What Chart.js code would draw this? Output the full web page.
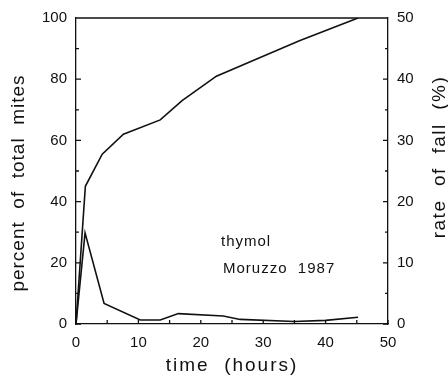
<!DOCTYPE html>
<html>
<head>
<meta charset="utf-8">
<script src="https://cdn.jsdelivr.net/npm/chart.js@4"></script>
<style>
  html, body { margin: 0; padding: 0; background: #fff; }
  #wrap { width: 448px; height: 384px; }
</style>
</head>
<body>
<div id="wrap"><canvas id="chart" width="448" height="384"></canvas></div>
<script>
// cumulative mite fall (left axis) and rate of fall (right axis)
const cumHours = [0, 1.5, 4.2, 7.6, 13.5, 17, 22.5, 28.3, 35.8, 45.2];
const cumPercent = [0, 45, 55.5, 62, 66.7, 73, 81, 86, 92.6, 100];

const rateHours = [0, 1.45, 4.5, 10.3, 13.5, 16.4, 23.6, 26.3, 35, 40, 45.2];
const ratePercent = [0, 14.9, 3.35, 0.65, 0.65, 1.7, 1.3, 0.75, 0.4, 0.6, 1.1];

const leftTicks = [0, 20, 40, 60, 80, 100];
const rightTicks = [0, 10, 20, 30, 40, 50];
const timeTicks = [0, 10, 20, 30, 40, 50];

const INK = '#111';
const FONT = '"Liberation Sans", Arial, sans-serif';

function spacedText(ctx, text, x, y, spacing) {
  ctx.letterSpacing = spacing + 'px';
  ctx.fillText(text, x, y);
  ctx.letterSpacing = '0px';
}

// inward tick marks, top frame line, axis titles and the note
const framePlugin = {
  id: 'frame',
  afterDraw(chart) {
    const ctx = chart.ctx;
    const a = chart.chartArea;
    const x = chart.scales.x, y = chart.scales.y, y1 = chart.scales.y1;
    ctx.save();
    ctx.strokeStyle = INK;
    ctx.lineWidth = 1.3;
    ctx.beginPath();
    ctx.moveTo(a.left, a.top);
    ctx.lineTo(a.right, a.top);
    for (let v = 0; v <= 100; v += 10) {
      const p = y.getPixelForValue(v);
      const len = v % 20 === 0 ? 5 : 3;
      ctx.moveTo(a.left, p);
      ctx.lineTo(a.left + len, p);
    }
    for (let v = 0; v <= 50; v += 5) {
      const p = y1.getPixelForValue(v);
      const len = v % 10 === 0 ? 5 : 3;
      ctx.moveTo(a.right, p);
      ctx.lineTo(a.right - len, p);
    }
    for (let v = 0; v <= 50; v += 5) {
      const p = x.getPixelForValue(v);
      ctx.moveTo(p, a.bottom);
      ctx.lineTo(p, a.bottom - 4);
    }
    ctx.stroke();

    ctx.fillStyle = INK;
    ctx.textAlign = 'center';
    ctx.textBaseline = 'middle';
    ctx.font = '19px ' + FONT;
    spacedText(ctx, 'time  (hours)', 232, 366, 2);

    ctx.save();
    ctx.translate(19, 183);
    ctx.rotate(-Math.PI / 2);
    spacedText(ctx, 'percent  of  total  mites', 0, 0, 1);
    ctx.restore();

    ctx.save();
    ctx.translate(440, 157);
    ctx.rotate(-Math.PI / 2);
    spacedText(ctx, 'rate  of  fall  (%)', 0, 0, 1.5);
    ctx.restore();

    ctx.textAlign = 'left';
    ctx.font = '15px ' + FONT;
    spacedText(ctx, 'thymol', 221, 242, 1);
    spacedText(ctx, 'Moruzzo  1987', 223, 269, 1);
    ctx.restore();
  }
};

new Chart(document.getElementById('chart'), {
  type: 'line',
  data: {
    datasets: [
      {
        label: 'percent of total mites',
        data: cumHours.map((h, i) => ({ x: h, y: cumPercent[i] })),
        yAxisID: 'y',
        borderColor: INK,
        borderWidth: 1.6,
        pointRadius: 0,
        tension: 0
      },
      {
        label: 'rate of fall (%)',
        data: rateHours.map((h, i) => ({ x: h, y: ratePercent[i] })),
        yAxisID: 'y1',
        borderColor: INK,
        borderWidth: 1.6,
        pointRadius: 0,
        tension: 0
      }
    ]
  },
  options: {
    responsive: false,
    animation: false,
    layout: { padding: { top: 15, left: 0, right: 0, bottom: 0 } },
    plugins: { legend: { display: false }, tooltip: { enabled: false } },
    scales: {
      x: {
        type: 'linear',
        min: 0,
        max: 50,
        afterBuildTicks(s) { s.ticks = timeTicks.map(v => ({ value: v })); },
        afterFit(s) { s.height = 60; },
        grid: { display: false, drawTicks: false },
        border: { display: true, color: INK, width: 1.3 },
        ticks: { color: INK, padding: 10, maxRotation: 0, font: { family: FONT, size: 15 } }
      },
      y: {
        position: 'left',
        min: 0,
        max: 100,
        afterBuildTicks(s) { s.ticks = leftTicks.map(v => ({ value: v })); },
        afterFit(s) { s.width = 76; },
        grid: { display: false, drawTicks: false },
        border: { display: true, color: INK, width: 1.3 },
        ticks: { color: INK, padding: 9, font: { family: FONT, size: 15 } }
      },
      y1: {
        position: 'right',
        min: 0,
        max: 50,
        afterBuildTicks(s) { s.ticks = rightTicks.map(v => ({ value: v })); },
        afterFit(s) { s.width = 60; },
        grid: { display: false, drawTicks: false },
        border: { display: true, color: INK, width: 1.3 },
        ticks: { color: INK, padding: 9, font: { family: FONT, size: 15 } }
      }
    }
  },
  plugins: [framePlugin]
});
</script>
</body>
</html>
